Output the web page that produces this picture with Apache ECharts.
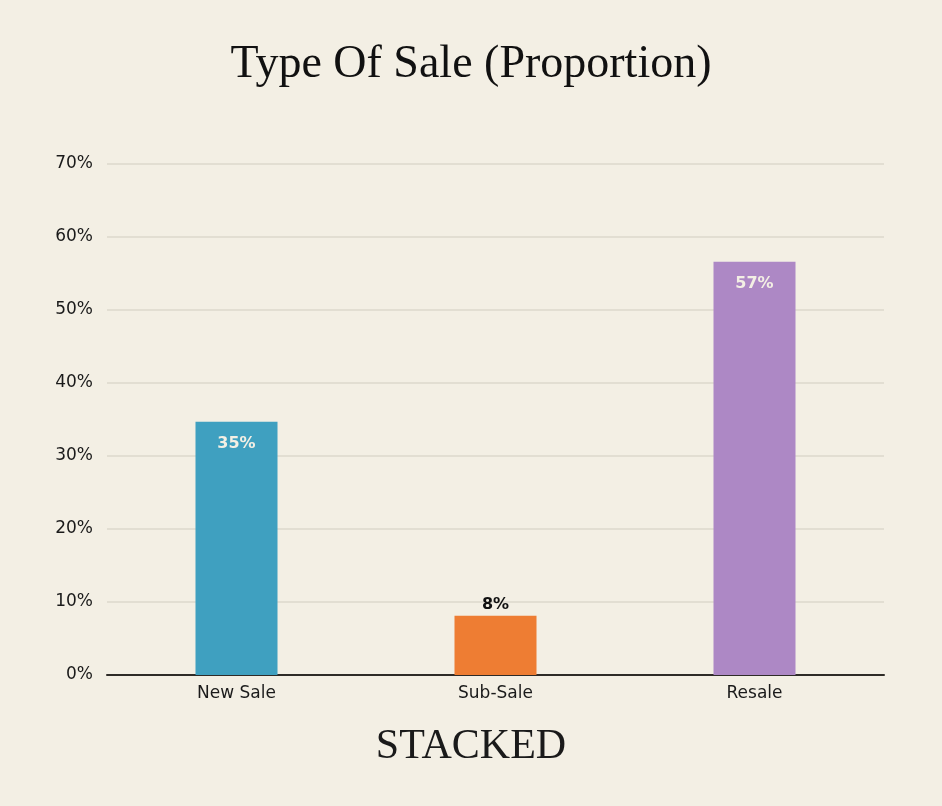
<!DOCTYPE html>
<html>
<head>
<meta charset="utf-8">
<script src="https://cdn.jsdelivr.net/npm/echarts@6/dist/echarts.min.js"></script>
<style>
  html, body { margin: 0; padding: 0; background: #f3efe4; }
  #chart { width: 942px; height: 806px; }
</style>
</head>
<body>
<div id="chart"></div>
<script>
const categories = ['New Sale', 'Sub-Sale', 'Resale'];
const shares = [34.7, 8.1, 56.6];
const barColors = ['#3fa0c0', '#ee7d33', '#ad88c5'];
const yTicks = [0, 10, 20, 30, 40, 50, 60, 70];

const chart = echarts.init(document.getElementById('chart'), null, { renderer: 'canvas' });

const sansFont = '"DejaVu Sans", "Noto Sans", sans-serif';

const option = {
  backgroundColor: '#f3efe4',
  animation: false,
  title: {
    text: 'Type Of Sale (Proportion)',
    left: 'center',
    top: 37,
    textStyle: {
      fontFamily: '"Liberation Serif", "DejaVu Serif", serif',
      fontWeight: 'normal',
      fontSize: 46,
      color: '#111'
    }
  },
  graphic: [
    {
      type: 'text',
      left: 'center',
      top: 726,
      style: {
        text: 'STACKED',
        font: '42px "Liberation Serif", serif',
        fill: '#1a1a1a'
      }
    }
  ],
  grid: {
    left: 107,
    right: 58,
    top: 164,
    bottom: 131,
    containLabel: false
  },
  xAxis: {
    type: 'category',
    data: categories,
    axisTick: { show: false },
    axisLine: { lineStyle: { color: '#2e2b27', width: 2 } },
    axisLabel: {
      color: '#1a1a1a',
      fontFamily: sansFont,
      fontSize: 17,
      margin: 10
    }
  },
  yAxis: {
    type: 'value',
    min: yTicks[0],
    max: yTicks[yTicks.length - 1],
    interval: 10,
    axisLine: { show: false },
    axisTick: { show: false },
    axisLabel: {
      color: '#1a1a1a',
      fontFamily: sansFont,
      fontSize: 17,
      margin: 14,
      formatter: (v) => `${v}%`
    },
    splitLine: { lineStyle: { color: '#dcd8cc', width: 1.5 } }
  },
  series: [
    {
      type: 'bar',
      barWidth: 82,
      data: shares.map((v, i) => ({
        value: v,
        itemStyle: { color: barColors[i] },
        label: v > 20
          ? { position: 'insideTop', distance: 14, color: '#f3efe4' }
          : { position: 'top', distance: 3, color: '#111' }
      })),
      label: {
        show: true,
        fontFamily: '"DejaVu Sans", sans-serif',
        fontWeight: 'bold',
        fontSize: 16,
        formatter: (p) => `${Math.round(p.value)}%`
      }
    }
  ]
};

chart.setOption(option);
</script>
</body>
</html>
